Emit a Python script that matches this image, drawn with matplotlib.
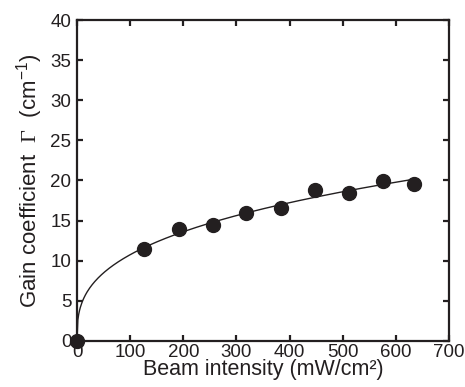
import numpy as np
import matplotlib
matplotlib.use("Agg")
import matplotlib.pyplot as plt

plt.rcParams['font.family'] = ['Liberation Sans', 'DejaVu Sans']
plt.rcParams['mathtext.fontset'] = 'custom'
plt.rcParams['mathtext.rm'] = 'Liberation Sans'
plt.rcParams['mathtext.it'] = 'Liberation Sans:italic'
plt.rcParams['mathtext.tt'] = 'Liberation Serif'

intensity = [0, 127, 192, 256, 318, 384, 448, 511, 575, 634]
gain = [0, 11.5, 13.9, 14.4, 16.0, 16.6, 18.8, 18.5, 19.9, 19.6]

x_ticks = [0, 100, 200, 300, 400, 500, 600, 700]
y_ticks = [0, 5, 10, 15, 20, 25, 30, 35, 40]

# power-law fit of the measured points (excluding origin)
xa = np.array(intensity[1:], float)
ya = np.array(gain[1:], float)
b, loga = np.polyfit(np.log(xa), np.log(ya), 1)
xf = np.linspace(0, max(intensity), 400)
yf = np.exp(loga) * xf ** b

ink = '#231f20'
fig = plt.figure(figsize=(4.65, 3.87), dpi=100)
ax = fig.add_axes([0.1656, 0.1189, 0.8, 0.8294])
ax.plot(xf, yf, color=ink, lw=1.0, zorder=2)
ax.plot(intensity, gain, 'o', color=ink, ms=10, zorder=3, clip_on=False)

ax.set_xlim(0, 700)
ax.set_ylim(0, 40)
ax.set_xticks(x_ticks)
ax.set_yticks(y_ticks)
for s in ax.spines.values():
    s.set_linewidth(1.6)
    s.set_color(ink)
ax.tick_params(direction='in', length=4.5, width=1.6, color=ink, labelsize=13.5,
               labelcolor=ink, top=True, right=True)
ax.tick_params(axis='x', pad=2)
ax.tick_params(axis='y', pad=4)
ax.set_xlabel('Beam intensity (mW/cm\u00b2)', fontsize=15.5, color=ink, labelpad=-1)
ax.set_ylabel(r'Gain coefficient  $\mathtt{\Gamma}$  (cm$^{-1}$)', fontsize=16, color=ink, labelpad=4)

fig.savefig('out.png', dpi=100)
